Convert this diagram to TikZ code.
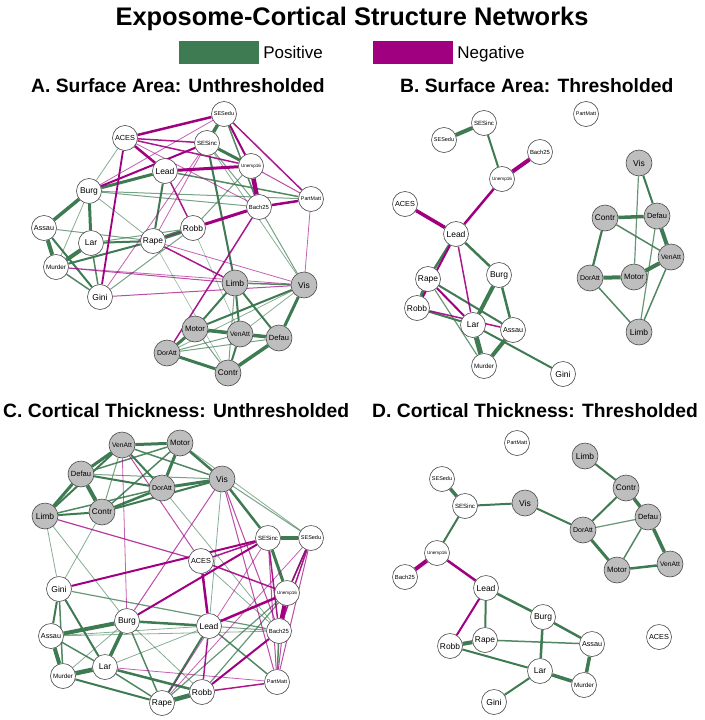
\documentclass[tikz,border=0pt]{standalone}
\usepackage{fontspec}
\setmainfont{Liberation Sans}
\usetikzlibrary{positioning}
\definecolor{posgreen}{RGB}{62,122,82}
\definecolor{negpink}{RGB}{160,0,128}
\definecolor{netgray}{RGB}{190,190,190}
\pgfdeclarelayer{edges}
\pgfsetlayers{edges,main}

\begin{document}
\begin{tikzpicture}[x=1pt, y=-1pt,
    expo/.style={circle, draw=black!70, line width=0.6pt, fill=white, minimum size=25pt, inner sep=0pt, font=\fontsize{#1}{#1}\selectfont},
    net/.style={expo=#1, fill=netgray, minimum size=26pt},
    posedge/.code={\pgfmathsetmacro\edgeop{min(1,0.3+#1/2.5)}\tikzset{draw=posgreen, line width=#1pt, draw opacity=\edgeop}},
    negedge/.code={\pgfmathsetmacro\edgeop{min(1,0.3+#1/2.5)}\tikzset{draw=negpink, line width=#1pt, draw opacity=\edgeop}},
    legbox/.style={rectangle, fill=#1, minimum width=80pt, minimum height=23pt, inner sep=0pt},
    leglabel/.style={inner sep=0pt, text depth=0pt, font=\fontsize{17}{20}\selectfont},
    paneltitle/.style={anchor=base west, inner sep=0pt, font=\fontsize{19.3}{20}\selectfont\bfseries}
  ]
  \useasboundingbox (0,0) rectangle (704,720);

  % title and legend
  \node[anchor=base, inner sep=0pt, font=\fontsize{25.4}{30}\selectfont\bfseries] (title) at (352,25) {Exposome-Cortical Structure Networks};
  \node[legbox=posgreen] (posbox) at (219,52.5) {};
  \node[leglabel, right=4pt of posbox] (poslab) {Positive};
  \node[legbox=negpink] (negbox) at (413,52.5) {};
  \node[leglabel, right=4pt of negbox] (neglab) {Negative};

  \node[paneltitle] (titleA) at (31,92.7) {A. Surface Area: Unthresholded};
  \node[paneltitle] (titleB) at (400,92.7) {B. Surface Area: Thresholded};
  \node[paneltitle] (titleC) at (3,417.3) {C. Cortical Thickness: Unthresholded};
  \node[paneltitle] (titleD) at (372,417.3) {D. Cortical Thickness: Thresholded};

  % A. surface area, unthresholded
  \foreach \nm/\xx/\yy/\fs in {SESedu/224/114/5.5, ACES/125/138/7.3, SESinc/207/143/6.1, Lead/165/171/8.5, Unemp16/251/166/4.6,
      Burg/89/191/8.5, PartMatt/311/199/5.3, Bach25/259/207/5.9, Assau/44/228/7.2, Robb/193/228/8.4, Lar/91/243/8.5,
      Rape/153/241/8.4, Murder/56/267/6.3, Gini/100/297/8.5}
    \node[expo=\fs] (a\nm) at (\xx,\yy) {\nm};
  \foreach \nm/\xx/\yy/\fs in {Limb/235/283/8.5, Vis/304/285/8.5, Motor/195/329/7.8, VenAtt/240/334/6.7,
      Defau/279/338/7.5, DorAtt/167/353/7, Contr/228/373/8.2}
    \node[net=\fs] (a\nm) at (\xx,\yy) {\nm};

  % B. surface area, thresholded
  \foreach \nm/\xx/\yy/\fs in {PartMatt/586/114/5.3, SESinc/484/123/6.1, SESedu/444/140/5.5, Bach25/540/152/5.9, Unemp16/502/179/4.6,
      ACES/405/204/7.3, Lead/456/234/8.5, Burg/499/275/8.5, Rape/428/279/8.4, Robb/417/308/8.4, Lar/473/325/8.5,
      Assau/513/330/7.2, Murder/484/366/6.3, Gini/563/374/8.5}
    \node[expo=\fs] (b\nm) at (\xx,\yy) {\nm};
  \foreach \nm/\xx/\yy/\fs in {Vis/639/163/8.5, Contr/605/218/8.2, Defau/657/216/7.5, VenAtt/671/257/6.7,
      DorAtt/590/278/7, Motor/634/277/7.8, Limb/639/332/8.5}
    \node[net=\fs] (b\nm) at (\xx,\yy) {\nm};

  % C. cortical thickness, unthresholded
  \foreach \nm/\xx/\yy/\fs in {SESinc/268/538/6.1, SESedu/311/538/5.5, ACES/201/561/7.3, Gini/59/589/8.5, Unemp16/287/593/4.6,
      Burg/127/621/8.5, Lead/209/626/8.5, Bach25/279/631/5.9, Assau/51/636/7.2, Lar/105/667/8.5, Murder/63/676/6.3,
      PartMatt/277/682/5.3, Robb/202/692/8.4, Rape/162/703/8.4}
    \node[expo=\fs] (c\nm) at (\xx,\yy) {\nm};
  \foreach \nm/\xx/\yy/\fs in {VenAtt/122/445/6.7, Motor/180/443/7.8, Defau/81/474/7.5, DorAtt/162/488/7,
      Vis/222/479/8.5, Limb/45/516/8.5, Contr/102/512/8.2}
    \node[net=\fs] (c\nm) at (\xx,\yy) {\nm};

  % D. cortical thickness, thresholded
  \foreach \nm/\xx/\yy/\fs in {PartMatt/517/443/5.3, SESedu/442/479/5.5, SESinc/465/506/6.1, Unemp16/437/553/4.6, Bach25/405/577/5.9,
      Lead/486/588/8.5, Burg/543/617/8.5, ACES/659/637/7.3, Robb/450/646/8.4, Rape/485/640/8.4, Assau/592/644/7.2,
      Lar/540/671/8.5, Murder/584/685/6.3, Gini/494/702/8.5}
    \node[expo=\fs] (d\nm) at (\xx,\yy) {\nm};
  \foreach \nm/\xx/\yy/\fs in {Limb/585/456/8.5, Contr/626/488/8.2, Vis/525/503/8.5, Defau/648/517/7.5,
      DorAtt/583/530/7, VenAtt/670/564/6.7, Motor/617/570/7.8}
    \node[net=\fs] (d\nm) at (\xx,\yy) {\nm};

  \begin{pgfonlayer}{edges}
    % A edges
    \foreach \src/\dst/\wid in {SESedu/SESinc/3.5, SESedu/Bach25/1.5, SESinc/Unemp16/3, SESinc/Limb/2, SESinc/Bach25/1,
        SESinc/Vis/0.8, ACES/Burg/0.8, Unemp16/Robb/1, Lead/Burg/3, Lead/Rape/2, Lead/PartMatt/1.5, Burg/PartMatt/1,
        Burg/Bach25/1, Burg/Assau/3.5, Burg/Lar/3, Burg/Murder/0.8, Burg/Rape/0.8, Bach25/Vis/1, Gini/Robb/1,
        Robb/Rape/4, Lar/Robb/1, Rape/Lar/2, Rape/Murder/2, Assau/Rape/1, Assau/Murder/4, Assau/Gini/2,
        Lar/Murder/4, Lar/Gini/1.5, Murder/Gini/1.5, Limb/Vis/1.5, Limb/Motor/2, Limb/VenAtt/2, Limb/Defau/2,
        Limb/Contr/1, Vis/Motor/2, Vis/VenAtt/0.8, Vis/Defau/3, Vis/DorAtt/0.8, Motor/VenAtt/3.5, Motor/DorAtt/3,
        Motor/Contr/1, VenAtt/Defau/3.5, VenAtt/Contr/2, VenAtt/DorAtt/1, Defau/Contr/3.5, DorAtt/Contr/3,
        DorAtt/Defau/1, Robb/VenAtt/0.6, Rape/Contr/0.6}
      \draw[posedge=\wid] (a\src) -- (a\dst);
    \foreach \src/\dst/\wid in {ACES/SESedu/2.5, ACES/SESinc/1.5, ACES/Unemp16/1.5, ACES/Bach25/0.8, ACES/Lead/2.5,
        ACES/Gini/1.8, SESedu/Unemp16/2, SESedu/PartMatt/1.5, SESedu/Burg/0.8, SESinc/Burg/2, SESinc/Rape/0.8,
        SESinc/Gini/0.8, Unemp16/Lead/3, Unemp16/Bach25/4.5, Unemp16/PartMatt/1, Lead/Robb/1.5, Bach25/Robb/3,
        Bach25/PartMatt/2.5, Bach25/Rape/0.8, Bach25/DorAtt/1.5, PartMatt/Vis/0.8, Rape/Limb/1.5, Rape/Vis/0.8,
        Murder/Limb/1, Murder/Vis/0.8, Gini/Vis/1}
      \draw[negedge=\wid] (a\src) -- (a\dst);

    % B edges
    \foreach \src/\dst/\wid in {SESedu/SESinc/4, SESinc/Unemp16/2, Lead/Rape/2.5, Lead/Burg/2.5, Burg/Lar/4,
        Burg/Assau/2.5, Rape/Robb/4, Rape/Assau/2, Rape/Murder/1.2, Robb/Lar/2, Lar/Murder/5, Assau/Murder/4,
        Lar/Gini/2, Vis/Defau/2, Vis/Motor/1.2, Contr/Defau/3.5, Contr/VenAtt/1.5, Contr/DorAtt/2.2,
        Defau/VenAtt/4, Defau/Limb/1.2, VenAtt/Motor/4, VenAtt/Limb/1.5, DorAtt/Motor/4, DorAtt/Limb/1.5}
      \draw[posedge=\wid] (b\src) -- (b\dst);
    \foreach \src/\dst/\wid in {Unemp16/Bach25/4, Unemp16/Lead/2.5, ACES/Lead/3.5, Lead/Lar/1.5, Lead/Robb/2,
        Rape/Lar/2, Robb/Assau/1.5}
      \draw[negedge=\wid] (b\src) -- (b\dst);

    % C edges
    \foreach \src/\dst/\wid in {VenAtt/Motor/3, VenAtt/Defau/3, VenAtt/DorAtt/2, VenAtt/Vis/1.5, VenAtt/Contr/1,
        VenAtt/Limb/2, Motor/Defau/1.5, Motor/DorAtt/3, Motor/Vis/2.5, Motor/Contr/1.5, Motor/SESedu/0.8,
        Defau/DorAtt/2, Defau/Contr/4, Defau/Limb/3, Defau/Vis/1, DorAtt/Vis/3, DorAtt/Contr/2.5, Contr/Vis/2,
        Limb/DorAtt/1.5, Limb/Contr/2, DorAtt/Bach25/0.8, Vis/SESinc/2.5, Vis/SESedu/1, Vis/Lead/0.8,
        Limb/Gini/0.8, Limb/Burg/0.8, Contr/Gini/0.8, ACES/Bach25/0.8, SESinc/SESedu/4, SESinc/Unemp16/3,
        SESedu/Unemp16/1.5, Robb/Unemp16/1.2, Gini/Bach25/1.2, Lead/Burg/2.5, Lead/Bach25/1, Lead/Rape/2,
        Lead/PartMatt/1.5, Lead/Lar/0.8, Lead/Assau/0.8, Burg/Assau/4, Burg/Lar/3.5, Burg/Murder/0.8,
        Burg/Rape/1.5, Burg/Robb/0.8, Assau/Bach25/0.8, Gini/Assau/2, Gini/Murder/1.5, Gini/Lar/2,
        Assau/Murder/4, Assau/Lar/1.5, Lar/Murder/4.5, Lar/Robb/2.5, Lar/Rape/1.5, Murder/Rape/2,
        Rape/Robb/4.5, Bach25/PartMatt/1.5, Rape/Unemp16/1.2}
      \draw[posedge=\wid] (c\src) -- (c\dst);
    \foreach \src/\dst/\wid in {VenAtt/Burg/0.8, VenAtt/ACES/1, Vis/Burg/1, Vis/Bach25/1, Vis/PartMatt/1,
        Limb/ACES/1.2, Gini/SESinc/2, ACES/SESinc/1.5, ACES/Unemp16/1.5, ACES/Lead/2.5, SESinc/Burg/2,
        SESinc/Bach25/1.5, SESinc/PartMatt/1, SESinc/Rape/0.8, SESedu/Bach25/1.5, SESedu/PartMatt/1,
        SESedu/Unemp16/1.5, Unemp16/Bach25/4, Unemp16/Lead/2.5, Unemp16/PartMatt/1, Lead/Robb/1.5,
        Lar/PartMatt/0.8, Robb/Bach25/2, Robb/PartMatt/1.5, Rape/SESedu/0.8}
      \draw[negedge=\wid] (c\src) -- (c\dst);

    % D edges
    \foreach \src/\dst/\wid in {SESedu/SESinc/3.5, SESinc/Vis/2, SESinc/Unemp16/2, Vis/DorAtt/2, Limb/Contr/2,
        Contr/DorAtt/2, Contr/Defau/3.5, DorAtt/Defau/1.2, DorAtt/Motor/3, Defau/Motor/1.5, Defau/VenAtt/3.5,
        Motor/VenAtt/2.5, Lead/Burg/2.5, Lead/Rape/2, Burg/Lar/2.5, Burg/Assau/2.5, Robb/Rape/4, Rape/Assau/1.5,
        Robb/Lar/2, Assau/Murder/3.5, Lar/Murder/3.5, Lar/Gini/2}
      \draw[posedge=\wid] (d\src) -- (d\dst);
    \foreach \src/\dst/\wid in {Unemp16/Bach25/4, Unemp16/Lead/2.5, Lead/Robb/2}
      \draw[negedge=\wid] (d\src) -- (d\dst);
  \end{pgfonlayer}
\end{tikzpicture}
\end{document}
